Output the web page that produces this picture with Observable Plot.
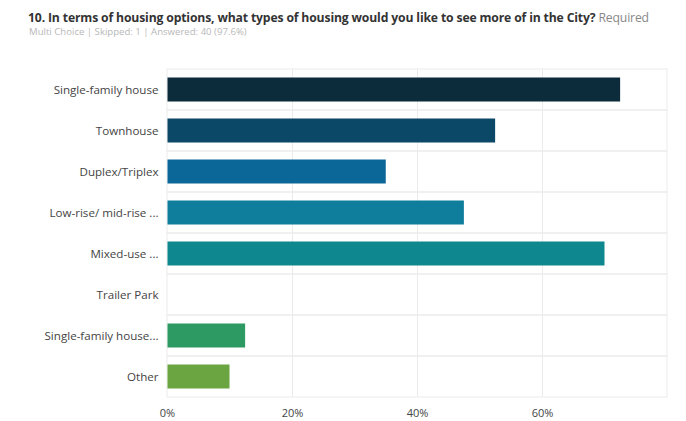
<!DOCTYPE html>
<html>
<head>
<meta charset="utf-8">
<script src="https://cdn.jsdelivr.net/npm/d3@7"></script>
<script src="https://cdn.jsdelivr.net/npm/@observablehq/plot@0.6"></script>
<style>
  html, body { margin: 0; padding: 0; background: #fff; }
  body { width: 686px; height: 421px; overflow: hidden; font-family: "Open Sans", sans-serif; }
  #title { position: absolute; left: 28px; top: 11px; font-size: 12.2px; line-height: 14px; font-weight: 700; color: #333; white-space: nowrap; letter-spacing: -0.15px; }
  #title span { font-weight: 400; color: #888; }
  #subtitle { position: absolute; left: 29px; top: 26px; font-size: 9.6px; line-height: 11px; color: #b8b8b8; white-space: nowrap; }
  #chart { position: absolute; left: 0; top: 40px; }
</style>
</head>
<body>
<div id="title">10. In terms of housing options, what types of housing would you like to see more of in the City? <span>Required</span></div>
<div id="subtitle">Multi Choice | Skipped: 1 | Answered: 40 (97.6%)</div>
<div id="chart"></div>
<script>
const categories = ["Single-family house", "Townhouse", "Duplex/Triplex", "Low-rise/ mid-rise ...", "Mixed-use ...", "Trailer Park", "Single-family house...", "Other"];
const values = [72.5, 52.5, 35, 47.5, 70, 0, 12.5, 10];
const colors = ["#0c2b3b", "#0b4766", "#0b6797", "#0f7e9c", "#0f878e", "#1c9a7a", "#2e9a63", "#6aa542"];
const xTicks = [0, 20, 40, 60];

const data = categories.map((c, i) => ({ category: c, value: values[i], color: colors[i] }));

const plot = Plot.plot({
  width: 686,
  height: 381,
  marginTop: 29,
  marginBottom: 24,
  marginLeft: 167,
  marginRight: 19,
  style: { fontFamily: "'Open Sans', sans-serif", fontSize: "11px", color: "#444" },
  x: { domain: [0, 80], ticks: xTicks, tickFormat: d => d + "%", tickSize: 0, tickPadding: 12, label: null },
  y: { domain: categories, padding: 0, tickSize: 0, tickPadding: 9, label: null },
  marks: [
    Plot.barX(categories, { y: d => d, x1: 0, x2: 80, fill: "none", stroke: "#ebebeb", strokeWidth: 1, inset: 0 }),
    Plot.ruleX(xTicks.slice(1), { stroke: "#ebebeb", strokeWidth: 1 }),
    Plot.barX(data, { y: "category", x: "value", fill: "color", insetTop: 8.5, insetBottom: 8.5, insetLeft: 0.5 })
  ]
});
plot.querySelectorAll("[aria-label='y-axis tick label'] text").forEach(t => t.style.fontSize = "11.6px");
document.getElementById("chart").appendChild(plot);
</script>
</body>
</html>
